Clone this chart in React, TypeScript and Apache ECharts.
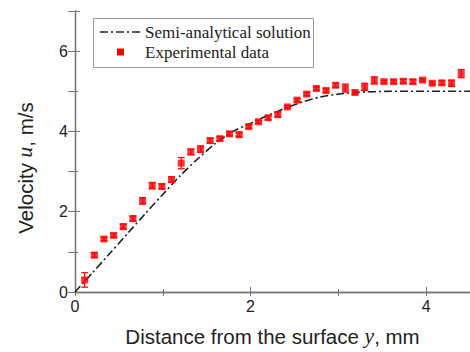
import React, { useEffect, useRef } from "react";
import * as echarts from "echarts";

// Experimental data: distance y (mm), velocity u (m/s), error half-width
const expY = [0.11, 0.22, 0.33, 0.44, 0.55, 0.66, 0.77, 0.88, 0.99, 1.1, 1.21, 1.32, 1.43, 1.54, 1.65, 1.76, 1.87, 1.98, 2.09, 2.2, 2.31, 2.42, 2.53, 2.64, 2.75, 2.86, 2.97, 3.08, 3.19, 3.3, 3.41, 3.52, 3.63, 3.74, 3.85, 3.96, 4.07, 4.18, 4.29, 4.4];
const expU = [0.3, 0.92, 1.32, 1.41, 1.63, 1.83, 2.27, 2.65, 2.63, 2.8, 3.21, 3.49, 3.56, 3.77, 3.82, 3.94, 3.92, 4.12, 4.24, 4.34, 4.42, 4.61, 4.78, 4.93, 5.07, 5.02, 5.15, 5.08, 4.97, 5.11, 5.27, 5.24, 5.24, 5.25, 5.24, 5.28, 5.2, 5.21, 5.2, 5.44];
const expErr = [0.18, 0.06, 0.04, 0.04, 0.06, 0.06, 0.08, 0.08, 0.06, 0.07, 0.14, 0.07, 0.08, 0.06, 0.05, 0.05, 0.06, 0.04, 0.04, 0.05, 0.06, 0.03, 0.04, 0.04, 0.04, 0.04, 0.05, 0.1, 0.04, 0.09, 0.09, 0.03, 0.04, 0.05, 0.05, 0.03, 0.03, 0.05, 0.08, 0.1];

// Semi-analytical solution
const solY = [0, 0.2, 0.4, 0.6, 0.8, 1.0, 1.2, 1.4, 1.6, 1.8, 2.0, 2.2, 2.4, 2.6, 2.8, 3.0, 3.2, 3.4, 3.6, 4.0, 4.5];
const solU = [0, 0.48, 0.97, 1.46, 1.95, 2.43, 2.9, 3.32, 3.7, 4.0, 4.2, 4.4, 4.58, 4.74, 4.86, 4.93, 4.97, 4.99, 5.0, 5.0, 5.0];

const xTicks = [0, 2, 4];
const yTicks = [0, 2, 4, 6];

const LINE_NAME = "Semi-analytical solution";
const EXP_NAME = "Experimental data";

export default function App() {
  const ref = useRef<HTMLDivElement>(null);
  useEffect(() => {
    document.body.style.margin = "0";
    const chart = echarts.init(ref.current!, null, { renderer: "svg" });
    const axisColor = "#777";
    const sans = "'Liberation Sans', Arial, sans-serif";
    const serif = "'Liberation Serif', 'Times New Roman', serif";
    const expData = expY.map((x, i) => [x, expU[i], expErr[i]]);
    const solData = solY.map((x, i) => [x, solU[i]]);
    const dash = [8, 3, 2, 3];
    chart.setOption({
      animation: false,
      backgroundColor: "#fff",
      grid: { left: 75, top: 11, width: 400, height: 287 },
      xAxis: [
        {
          type: "value",
          position: "bottom",
          min: 0,
          max: 4.5,
          interval: 2,
          splitLine: { show: false },
          axisLine: { lineStyle: { color: axisColor, width: 1.3 } },
          axisTick: { inside: true, length: 5, lineStyle: { color: axisColor } },
          minorTick: { show: true, splitNumber: 2, length: 3, lineStyle: { color: axisColor } },
          axisLabel: {
            margin: 6,
            fontFamily: sans,
            fontSize: 16,
            color: "#222",
            showMaxLabel: false,
            formatter: (v: number) => (xTicks.includes(v) ? String(v) : ""),
          },
          name: "{a|Distance from the surface }{i|y}{a|, mm}",
          nameLocation: "middle",
          nameGap: 33,
          nameTextStyle: {
            rich: {
              a: { fontFamily: sans, fontSize: 20.5, color: "#222" },
              i: { fontFamily: serif, fontStyle: "italic", fontSize: 21.5, color: "#222" },
            },
          },
        },
        {
          type: "value",
          position: "top",
          min: 0,
          max: 4.5,
          interval: 1,
          splitLine: { show: false },
          axisLine: { lineStyle: { color: axisColor, width: 1.3 } },
          axisTick: { inside: true, length: 4, lineStyle: { color: axisColor } },
          axisLabel: { show: false },
        },
      ],
      yAxis: [
        {
          type: "value",
          position: "left",
          min: 0,
          max: 7,
          interval: 2,
          splitLine: { show: false },
          axisLine: { lineStyle: { color: axisColor, width: 1.3 } },
          axisTick: { inside: true, length: 5, lineStyle: { color: axisColor } },
          minorTick: { show: true, splitNumber: 2, length: 3, lineStyle: { color: axisColor } },
          axisLabel: {
            margin: 7,
            fontFamily: sans,
            fontSize: 16,
            color: "#222",
            showMaxLabel: false,
            formatter: (v: number) => (yTicks.includes(v) ? String(v) : ""),
          },
        },
        {
          type: "value",
          position: "right",
          min: 0,
          max: 7,
          interval: 1,
          splitLine: { show: false },
          axisLine: { lineStyle: { color: axisColor, width: 1.3 } },
          axisTick: { inside: true, length: 7, lineStyle: { color: axisColor } },
          axisLabel: { show: false },
        },
      ],
      graphic: [
        {
          type: "text",
          x: 25,
          y: 168,
          rotation: Math.PI / 2,
          style: {
            text: "{a|Velocity }{i|u}{a|, m/s}",
            align: "center",
            verticalAlign: "middle",
            rich: {
              a: { fontFamily: sans, fontSize: 20.5, fill: "#222", color: "#222" },
              i: { fontFamily: serif, fontStyle: "italic", fontSize: 21.5, fill: "#222", color: "#222" },
            },
          },
        },
        // legend box
        {
          type: "rect",
          shape: { x: 93.5, y: 18.5, width: 220, height: 49 },
          style: { fill: "#fff", stroke: "#999", lineWidth: 1 },
          z: 10,
        },
        {
          type: "line",
          shape: { x1: 100, y1: 32, x2: 141, y2: 32 },
          style: { stroke: "#222", lineWidth: 1.6, lineDash: dash },
          z: 11,
        },
        {
          type: "rect",
          shape: { x: 117, y: 48.5, width: 7, height: 7 },
          style: { fill: "#ff0000" },
          z: 11,
        },
        {
          type: "text",
          x: 145,
          y: 32,
          style: { text: LINE_NAME, fontFamily: serif, fontSize: 17, fill: "#222", verticalAlign: "middle" },
          z: 11,
        },
        {
          type: "text",
          x: 145,
          y: 52,
          style: { text: EXP_NAME, fontFamily: serif, fontSize: 17, fill: "#222", verticalAlign: "middle" },
          z: 11,
        },
      ],
      series: [
        {
          name: LINE_NAME,
          type: "line",
          data: solData,
          smooth: 0.3,
          symbol: "none",
          showSymbol: false,
          itemStyle: { color: "#222" },
          lineStyle: { color: "#222", width: 1.6, type: dash },
          z: 2,
        },
        {
          name: "errorbars",
          type: "custom",
          data: expData,
          renderItem: (params: any, api: any) => {
            const x = api.value(0);
            const y = api.value(1);
            const e = api.value(2);
            const top = api.coord([x, y + e]);
            const bot = api.coord([x, y - e]);
            const hw = 3.5;
            const style = { stroke: "#ee1111", lineWidth: 1.3 };
            return {
              type: "group",
              children: [
                { type: "line", shape: { x1: top[0], y1: top[1], x2: bot[0], y2: bot[1] }, style },
                { type: "line", shape: { x1: top[0] - hw, y1: top[1], x2: top[0] + hw, y2: top[1] }, style },
                { type: "line", shape: { x1: bot[0] - hw, y1: bot[1], x2: bot[0] + hw, y2: bot[1] }, style },
              ],
            };
          },
          z: 3,
        },
        {
          name: EXP_NAME,
          type: "scatter",
          data: expData.map((d) => [d[0], d[1]]),
          symbol: "rect",
          symbolSize: 7,
          itemStyle: { color: "#ff0000" },
          z: 4,
        },
      ],
    });
    return () => chart.dispose();
  }, []);
  return <div ref={ref} style={{ width: 470, height: 352 }} />;
}
